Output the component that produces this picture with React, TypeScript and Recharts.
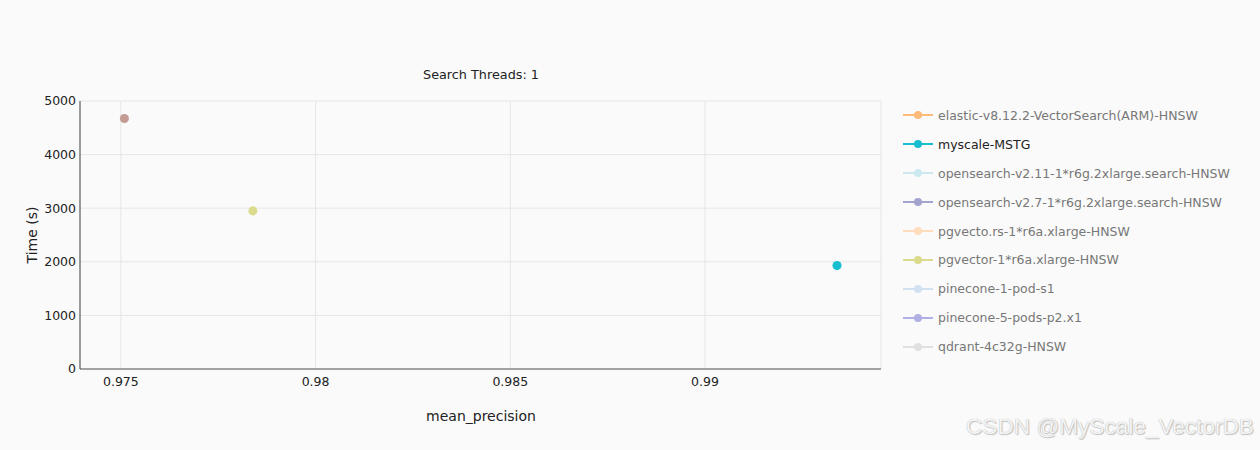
import { ScatterChart, Scatter, XAxis, YAxis, ZAxis, CartesianGrid } from 'recharts';

// Series shown in the legend (name, marker colour, text colour)
const LEGEND_NAMES = [
  'elastic-v8.12.2-VectorSearch(ARM)-HNSW',
  'myscale-MSTG',
  'opensearch-v2.11-1*r6g.2xlarge.search-HNSW',
  'opensearch-v2.7-1*r6g.2xlarge.search-HNSW',
  'pgvecto.rs-1*r6a.xlarge-HNSW',
  'pgvector-1*r6a.xlarge-HNSW',
  'pinecone-1-pod-s1',
  'pinecone-5-pods-p2.x1',
  'qdrant-4c32g-HNSW',
];
const LEGEND_COLORS = [
  '#ffbb78', '#17becf', '#cbe9ef', '#a3a3cf', '#ffdcbc',
  '#dbdb8d', '#d2e1f1', '#b0b0e4', '#e0e0e0',
];
const LEGEND_TEXT = [
  '#777', '#222', '#777', '#777', '#777', '#777', '#777', '#777', '#777',
];

// Visible points: mean_precision vs time
const POINT_NAMES = ['other', 'pgvector-1*r6a.xlarge-HNSW', 'myscale-MSTG'];
const POINT_X = [0.97509, 0.97839, 0.99339];
const POINT_Y = [4673, 2950, 1932];
const POINT_COLORS = ['#c49c94', '#dbdb8d', '#17becf'];

const X_TICKS = [0.975, 0.98, 0.985, 0.99];
const Y_TICKS = [0, 1000, 2000, 3000, 4000, 5000];

const FONT = "'DejaVu Sans', Verdana, sans-serif";

function Legend() {
  return (
    <div style={{ position: 'absolute', left: 900, top: 101, fontFamily: FONT, fontSize: 12.5 }}>
      {LEGEND_NAMES.map((name, i) => (
        <div key={name} style={{ display: 'flex', alignItems: 'center', height: 28.9 }}>
          <svg width={36} height={10}>
            <line x1={3} y1={5} x2={33} y2={5} stroke={LEGEND_COLORS[i]} strokeWidth={2} />
            <circle cx={18} cy={5} r={4} fill={LEGEND_COLORS[i]} />
          </svg>
          <span style={{ color: LEGEND_TEXT[i], marginLeft: 2 }}>{name}</span>
        </div>
      ))}
    </div>
  );
}

export default function App() {
  return (
    <div style={{ position: 'fixed', left: 0, top: 0, width: 1260, height: 450, background: '#fafafa', overflow: 'hidden' }}>
      <div style={{ position: 'absolute', left: 0, width: 962, top: 67, textAlign: 'center', fontFamily: FONT, fontSize: 12.8, color: '#222' }}>
        Search Threads: 1
      </div>
      <ScatterChart width={1260} height={450} margin={{ top: 101, right: 379, bottom: 51, left: 30 }}>
        <CartesianGrid stroke="#e6e6e6" />
        <XAxis
          type="number"
          dataKey="x"
          domain={[0.97395, 0.99452]}
          ticks={X_TICKS}
          tickFormatter={(v) => String(v)}
          axisLine={{ stroke: '#888', strokeWidth: 1.5 }}
          tickLine={false}
          height={30}
          tick={{ fill: '#222', fontSize: 12.5, fontFamily: FONT }}
          allowDataOverflow
        />
        <YAxis
          type="number"
          dataKey="y"
          domain={[0, 5000]}
          ticks={Y_TICKS}
          axisLine={{ stroke: '#444' }}
          tickLine={false}
          tickSize={2}
          width={50}
          tick={{ fill: '#222', fontSize: 12.5, fontFamily: FONT }}
        />
        <ZAxis range={[70, 70]} />
        {POINT_NAMES.map((name, i) => (
          <Scatter
            key={name}
            name={name}
            data={[{ x: POINT_X[i], y: POINT_Y[i] }]}
            fill={POINT_COLORS[i]}
            isAnimationActive={false}
          />
        ))}
      </ScatterChart>
      <div style={{ position: 'absolute', left: 0, width: 962, top: 408, textAlign: 'center', fontFamily: FONT, fontSize: 14, color: '#222' }}>
        mean_precision
      </div>
      <div style={{ position: 'absolute', left: 32, top: 235, transform: 'translate(-50%, -50%) rotate(-90deg)', fontFamily: FONT, fontSize: 14, color: '#222', whiteSpace: 'nowrap' }}>
        Time (s)
      </div>
      <Legend />
      <div style={{ position: 'absolute', left: 966, top: 414, fontFamily: "'Liberation Sans', Arial, sans-serif", fontSize: 22.6, color: '#f4f4f4', textShadow: '0 0 1px #aaa, 1px 1px 1px #c4c4c4' }}>
        CSDN @MyScale_VectorDB
      </div>
    </div>
  );
}
